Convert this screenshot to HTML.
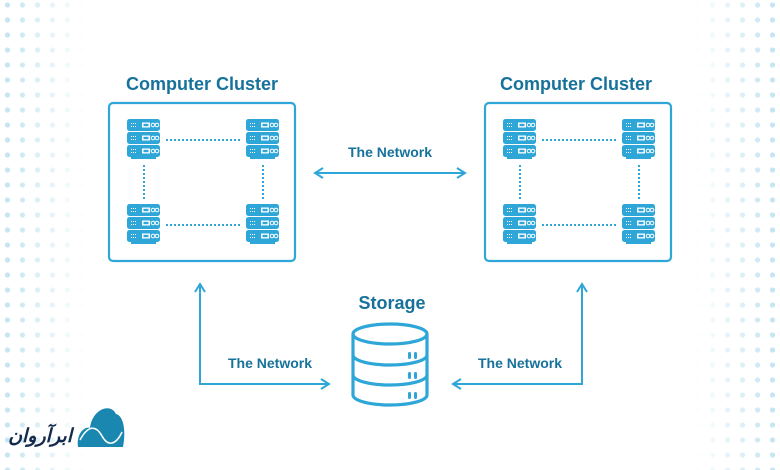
<!DOCTYPE html>
<html><head><meta charset="utf-8"><style>
html,body{margin:0;padding:0;background:#fff;}
svg{display:block;}
text{font-family:"Liberation Sans",sans-serif;font-weight:bold;fill:#17729b;}
</style></head><body>
<svg width="780" height="470" viewBox="0 0 780 470" xmlns="http://www.w3.org/2000/svg">
<defs>
<pattern id="dots" width="15" height="15" patternUnits="userSpaceOnUse">
<circle cx="7.5" cy="5" r="2.6" fill="#bfe3f1"/>
</pattern>
<linearGradient id="gl" x1="0" x2="1" y1="0" y2="0"><stop offset="0" stop-color="#fff"/><stop offset="1" stop-color="#000"/></linearGradient>
<linearGradient id="gr" x1="1" x2="0" y1="0" y2="0"><stop offset="0" stop-color="#fff"/><stop offset="1" stop-color="#000"/></linearGradient>
<mask id="ml"><rect x="0" y="0" width="85" height="470" fill="url(#gl)"/></mask>
<mask id="mr"><rect x="695" y="0" width="85" height="470" fill="url(#gr)"/></mask>
<g id="unit">
<rect x="0" y="0" width="33" height="12" rx="2.5" fill="#2ea7d8"/>
<rect x="15" y="3.5" width="8" height="5" fill="#fff"/>
<rect x="16.5" y="4.8" width="5" height="2.4" fill="#2ea7d8"/>
<circle cx="26" cy="6" r="1.8" fill="none" stroke="#fff" stroke-width="1"/>
<circle cx="30" cy="6" r="1.8" fill="none" stroke="#fff" stroke-width="1"/>
<g fill="#fff"><rect x="4" y="4" width="1" height="1"/><rect x="6" y="4" width="1" height="1"/><rect x="8" y="4" width="1" height="1"/><rect x="4" y="7" width="1" height="1"/><rect x="6" y="7" width="1" height="1"/><rect x="8" y="7" width="1" height="1"/></g>
</g>
<g id="server">
<use href="#unit" x="0" y="0"/><use href="#unit" x="0" y="13"/><use href="#unit" x="0" y="26"/>
<rect x="4" y="38" width="25" height="2" fill="#2ea7d8"/>
</g>
<g id="cluster">
<rect x="1" y="1" width="186" height="158" rx="4" fill="none" stroke="#2ea7d8" stroke-width="2.2"/>
<use href="#server" x="19" y="17"/><use href="#server" x="138" y="17"/>
<use href="#server" x="19" y="102"/><use href="#server" x="138" y="102"/>
<g stroke="#2ea7d8" stroke-width="2" stroke-dasharray="2 2">
<line x1="58" y1="38" x2="133" y2="38"/><line x1="58" y1="123" x2="133" y2="123"/>
<line x1="36" y1="63" x2="36" y2="98"/><line x1="155" y1="63" x2="155" y2="98"/>
</g>
</g>
</defs>
<rect x="0" y="0" width="85" height="470" fill="url(#dots)" mask="url(#ml)"/>
<rect x="695" y="0" width="85" height="470" fill="url(#dots)" mask="url(#mr)"/>

<text x="202" y="90" font-size="18" text-anchor="middle">Computer Cluster</text>
<text x="576" y="90" font-size="18" text-anchor="middle">Computer Cluster</text>
<use href="#cluster" x="108" y="102"/>
<use href="#cluster" x="484" y="102"/>

<text x="390" y="157" font-size="14" text-anchor="middle">The Network</text>
<g stroke="#2ea7d8" stroke-width="2" fill="none">
<line x1="316" y1="173" x2="464" y2="173"/>
<polyline points="323,168 315,173 323,178"/><polyline points="457,168 465,173 457,178"/>
<polyline points="200,285 200,384 328,384"/>
<polyline points="195,292 200,284 205,292"/><polyline points="321,379 329,384 321,389"/>
<polyline points="582,285 582,384 454,384"/>
<polyline points="577,292 582,284 587,292"/><polyline points="461,379 453,384 461,389"/>
</g>
<text x="270" y="368" font-size="14" text-anchor="middle">The Network</text>
<text x="520" y="368" font-size="14" text-anchor="middle">The Network</text>
<text x="392" y="309" font-size="18" text-anchor="middle">Storage</text>

<g stroke="#2ea7d8" stroke-width="3.2" fill="none">
<ellipse cx="390" cy="334" rx="37" ry="10"/>
<path d="M353,334 V395 A37,10 0 0 0 427,395 V334"/>
<path d="M353,355 A37,10 0 0 0 427,355"/>
<path d="M353,375 A37,10 0 0 0 427,375"/>
</g>
<g fill="#2ea7d8">
<rect x="408" y="352" width="3" height="7" rx="1.5"/><rect x="414" y="352" width="3" height="7" rx="1.5"/>
<rect x="408" y="372" width="3" height="7" rx="1.5"/><rect x="414" y="372" width="3" height="7" rx="1.5"/>
<rect x="408" y="392" width="3" height="7" rx="1.5"/><rect x="414" y="392" width="3" height="7" rx="1.5"/>
</g>

<path d="M78,447 C76,432 86,426 90,428 C92,410 110,402 116,414 C124,416 126,432 123,447 Z" fill="#1a87b0"/>
<path d="M80,440 C88,425 96,425 102,436 C108,447 116,445 122,432" stroke="#fff" stroke-width="1.5" fill="none"/>
<text x="72" y="442" font-size="19" text-anchor="end" style="font-family:'DejaVu Sans',sans-serif;font-style:italic;fill:#152a4a">ابرآروان</text>
</svg>
</body></html>
